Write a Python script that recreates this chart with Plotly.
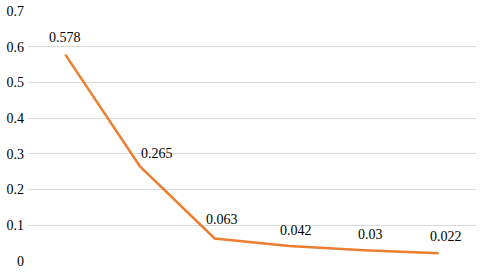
import plotly.graph_objects as go

categories = ["P1", "P2", "P3", "P4", "P5", "P6"]
values = [0.578, 0.265, 0.063, 0.042, 0.03, 0.022]
labels = ["0.578", "0.265", "0.063", "0.042", "0.03", "0.022"]
y_ticks = [0, 0.1, 0.2, 0.3, 0.4, 0.5, 0.6, 0.7]
y_tick_text = ["0", "0.1", "0.2", "0.3", "0.4", "0.5", "0.6", "0.7"]

label_xshift = [0, 17, 7, 7, 6, 7]
label_yshift = [17, 13, 19, 16, 16, 17]

FONT = "'Times New Roman', 'Liberation Serif', 'DejaVu Serif', serif"

fig = go.Figure()
fig.add_trace(go.Scatter(
    x=categories, y=values, mode="lines",
    line=dict(color="#ED7D31", width=2.5),
    hoverinfo="skip",
))
for c, v, t, xs, ys in zip(categories, values, labels, label_xshift, label_yshift):
    fig.add_annotation(x=c, y=v, text=t, showarrow=False, xshift=xs, yshift=ys,
                       xref="x", yref="y",
                       font=dict(family=FONT, size=14, color="#000000"))

fig.update_layout(
    width=480, height=273,
    margin=dict(l=28, r=4, t=11, b=9),
    paper_bgcolor="white", plot_bgcolor="white",
    showlegend=False,
    font=dict(family=FONT, size=13, color="#000000"),
)
fig.update_xaxes(type="category", range=[-0.5, 5.5], showticklabels=False,
                 showgrid=False, zeroline=False, showline=False, ticks="")
fig.update_yaxes(range=[0, 0.7], tickvals=y_ticks, ticktext=y_tick_text,
                 tickfont=dict(family=FONT, size=14, color="#000000"),
                 showgrid=True, gridcolor="#D9D9D9", gridwidth=1.3,
                 zeroline=False, showline=False, ticks="", ticklabelstandoff=3)
fig.write_html("out.html", config={"displayModeBar": False},
               post_script="document.body.style.margin='0';document.body.style.overflow='hidden';")
